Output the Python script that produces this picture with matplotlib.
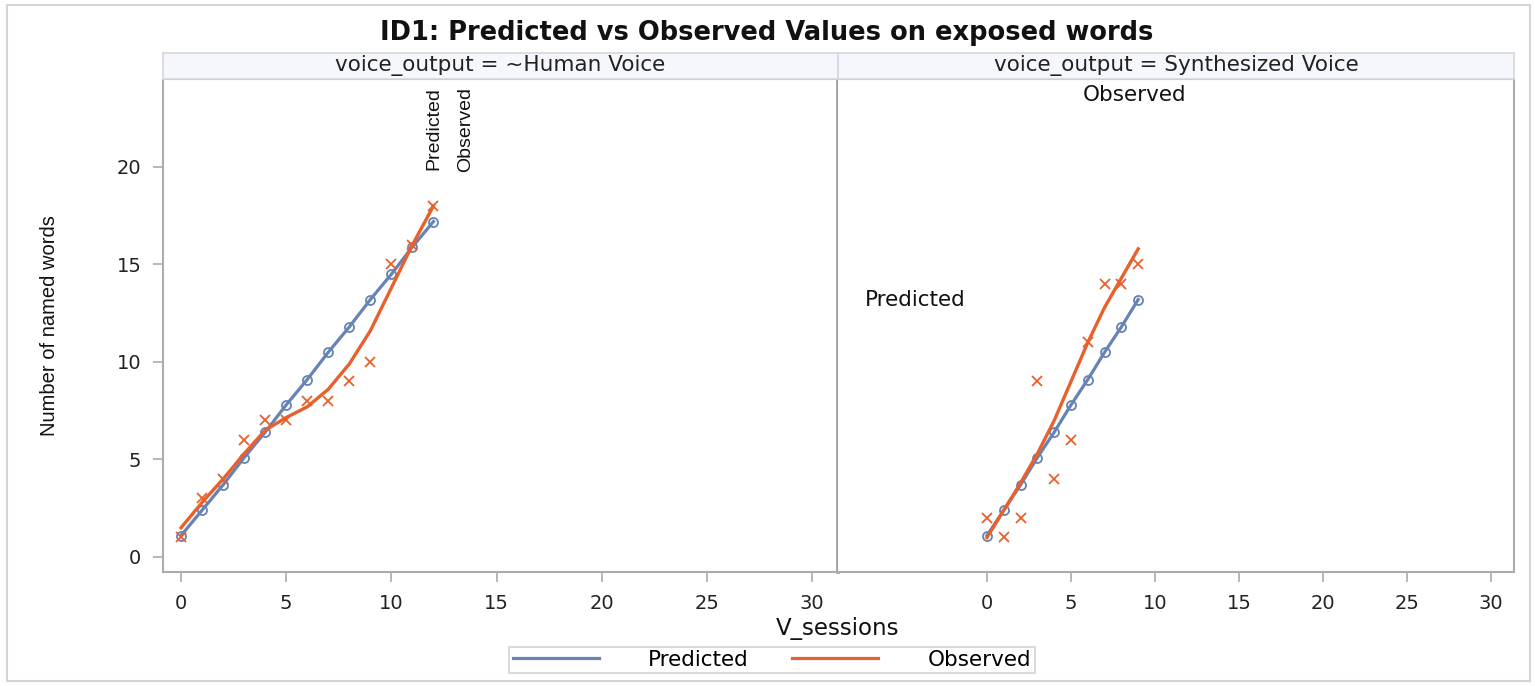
import matplotlib.pyplot as plt
from matplotlib.lines import Line2D
from matplotlib.patches import Rectangle

# Human voice panel: sessions, model prediction, observed counts, smoothed fit of the observed counts
human_sessions = list(range(13))
human_pred = [1.1, 2.4, 3.7, 5.1, 6.4, 7.8, 9.1, 10.5, 11.8, 13.2, 14.5, 15.9, 17.2]
human_obs = [1, 3, 4, 6, 7, 7, 8, 8, 9, 10, 15, 16, 18]
human_obs_fit = [1.5, 2.8, 4.0, 5.3, 6.5, 7.15, 7.7, 8.6, 9.9, 11.6, 13.8, 16.0, 18.0]

# Synthesized voice panel
synth_sessions = list(range(10))
synth_pred = [1.1, 2.4, 3.7, 5.1, 6.4, 7.8, 9.1, 10.5, 11.8, 13.2]
synth_obs = [2, 1, 2, 9, 4, 6, 11, 14, 14, 15]
synth_obs_fit = [1.0, 2.4, 3.8, 5.3, 7.0, 9.0, 11.0, 12.8, 14.3, 15.8]

x_ticks = [0, 5, 10, 15, 20, 25, 30]
y_ticks = [0, 5, 10, 15, 20]

BLUE = '#6683b5'
ORANGE = '#e8602c'
FRAME = '#a9acb1'
NARROW = 'Liberation Sans'

plt.rcParams['font.family'] = 'DejaVu Sans'

W, H = 1535, 686
fig = plt.figure(figsize=(W / 100, H / 100), dpi=100)


def box(x0, y0, x1, y1):
    # pixel rectangle (top-left origin) -> figure fraction rect
    return [x0 / W, 1 - y1 / H, (x1 - x0) / W, (y1 - y0) / H]


ax_h = fig.add_axes(box(163, 79, 838, 572))
ax_s = fig.add_axes(box(838, 79, 1514, 572))

panels = [
    (ax_h, 'voice_output = ~Human Voice', human_sessions, human_pred, human_obs,
     human_obs_fit, (-0.86, 31.24), (163, 838)),
    (ax_s, 'voice_output = Synthesized Voice', synth_sessions, synth_pred, synth_obs,
     synth_obs_fit, (-8.87, 31.37), (838, 1514)),
]

for ax, strip_label, sess, pred, obs, fit, xlim, (px0, px1) in panels:
    ax.plot(sess, pred, color=BLUE, lw=2.3, marker='o', ms=6.5, mfc='none',
            mec=BLUE, mew=1.3, zorder=3)
    ax.plot(sess, fit, color=ORANGE, lw=2.4, zorder=4, solid_joinstyle='round')
    ax.plot(sess, obs, ls='none', marker='x', ms=7.5, mec=ORANGE, mew=1.3, zorder=5)

    ax.set_xlim(*xlim)
    ax.set_ylim(-0.77, 24.51)
    ax.set_xticks(x_ticks)
    ax.set_yticks(y_ticks)
    ax.tick_params(axis='both', length=7.5, width=1.2, color=FRAME,
                   labelsize=14, labelcolor='#222222', pad=8)
    for side in ax.spines.values():
        side.set_color(FRAME)
        side.set_linewidth(1.5)

    # facet header strip
    strip = fig.add_axes(box(px0, 53, px1, 79))
    strip.set_facecolor('#f5f7fd')
    strip.set_xticks([])
    strip.set_yticks([])
    for side in strip.spines.values():
        side.set_color('#d4d7dc')
        side.set_linewidth(1.2)
    strip.text(0.5, 0.5, strip_label, ha='center', va='center', fontsize=15.5,
               color='#222222', transform=strip.transAxes)

# panel separator and shared y axis
ax_h.spines['right'].set_color('#9a9ea4')
ax_h.spines['right'].set_linewidth(2.6)
ax_s.spines['left'].set_visible(False)
ax_s.tick_params(axis='y', left=False, labelleft=False)

# curve labels
ax_h.text(human_sessions[-1], 24.1, 'Predicted', rotation=90, ha='center', va='top',
          family=NARROW, fontsize=14, color='#111111')
ax_h.text(13.55, 24.1, 'Observed', rotation=90, ha='center', va='top',
          family=NARROW, fontsize=14, color='#111111')
ax_s.text(8.8, 23.7, 'Observed', ha='center', va='center', fontsize=15.5,
          color='#111111')
ax_s.text(-4.3, synth_pred[-1], 'Predicted', ha='center', va='center', fontsize=15.5,
          color='#111111')

fig.text(767 / W, 1 - 33 / H, 'ID1: Predicted vs Observed Values on exposed words',
         ha='center', va='center', fontsize=18.5, fontweight='bold', color='#111111')
fig.text(50 / W, 1 - 326 / H, 'Number of named words', rotation=90, ha='center',
         va='center', family=NARROW, fontsize=14.5, color='#111111')
fig.text(838 / W, 1 - 628 / H, 'V_sessions', ha='center', va='center', fontsize=16.5,
         color='#111111')

handles = [Line2D([], [], color=BLUE, lw=2.3), Line2D([], [], color=ORANGE, lw=2.3)]
leg = fig.legend(handles, ['Predicted', 'Observed'], loc='center',
                 bbox_to_anchor=(772 / W, 1 - 660 / H), ncol=2, fontsize=15.5,
                 frameon=True, fancybox=False, edgecolor='#c8c8c8',
                 handlelength=4.0, handletextpad=2.3, columnspacing=2.0,
                 borderpad=0.15)
leg.get_frame().set_linewidth(1.2)

# outer graph border
fig.patches.append(Rectangle((7 / W, 1 - 681 / H), 1523 / W, 676 / H, fill=False,
                             ec='#d5d5d5', lw=1.5, transform=fig.transFigure))

fig.savefig('out.png', dpi=100)
